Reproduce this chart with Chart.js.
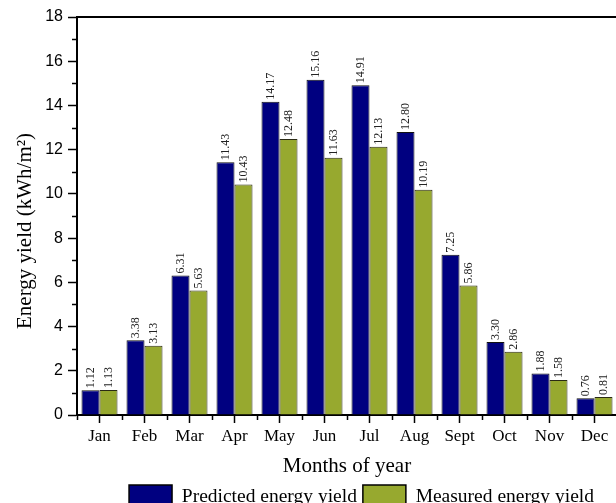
<!DOCTYPE html>
<html>
<head>
<meta charset="utf-8">
<script src="https://cdn.jsdelivr.net/npm/chart.js@4.4.1/dist/chart.umd.min.js"></script>
<style>
  html, body { margin: 0; padding: 0; background: #fff; overflow: hidden; }
  #wrap { width: 616px; height: 503px; overflow: hidden; position: relative; }
  canvas { display: block; }
</style>
</head>
<body>
<div id="wrap"><canvas id="c" width="640" height="519"></canvas></div>
<script>
// Monthly energy yield, kWh/m²
const months = ['Jan', 'Feb', 'Mar', 'Apr', 'May', 'Jun', 'Jul', 'Aug', 'Sept', 'Oct', 'Nov', 'Dec'];
const predicted = [1.12, 3.38, 6.31, 11.43, 14.17, 15.16, 14.91, 12.80, 7.25, 3.30, 1.88, 0.76];
const measured = [1.13, 3.13, 5.63, 10.43, 12.48, 11.63, 12.13, 10.19, 5.86, 2.86, 1.58, 0.81];
const yTicks = [0, 2, 4, 6, 8, 10, 12, 14, 16, 18];

const SERIF = '"Liberation Serif", "Times New Roman", serif';
const SANS = '"Liberation Sans", Arial, sans-serif';

// Value labels, rotated, just above each bar
const valueLabels = {
  id: 'valueLabels',
  afterDatasetsDraw(chart) {
    const ctx = chart.ctx;
    ctx.save();
    ctx.font = '12px ' + SERIF;
    ctx.fillStyle = '#222';
    ctx.textAlign = 'left';
    ctx.textBaseline = 'middle';
    chart.data.datasets.forEach((ds, i) => {
      chart.getDatasetMeta(i).data.forEach((bar, j) => {
        ctx.save();
        ctx.translate(bar.x, bar.y - 2);
        ctx.rotate(-Math.PI / 2);
        ctx.fillText(ds.data[j].toFixed(2), 0, 0);
        ctx.restore();
      });
    });
    ctx.restore();
  }
};

// Frame line along the top, minor ticks on both axes, rotated y title
const frame = {
  id: 'frame',
  afterLayout(chart) {
    const lg = chart.legend;
    lg.left = 106;
    lg.right = 617;
  },
  afterDraw(chart) {
    const ctx = chart.ctx;
    const {top, left, right, bottom} = chart.chartArea;
    const x = chart.scales.x, y = chart.scales.y;
    ctx.save();
    ctx.strokeStyle = '#000';
    ctx.lineWidth = 2;
    ctx.beginPath();
    ctx.moveTo(left - 1, top);
    ctx.lineTo(right + 10, top);
    ctx.stroke();
    ctx.lineWidth = 1.5;
    ctx.beginPath();
    for (let v = 1; v < 18; v += 2) {
      const py = Math.round(y.getPixelForValue(v)) + 0.5;
      ctx.moveTo(left - 5, py);
      ctx.lineTo(left, py);
    }
    const step = x.getPixelForValue(1) - x.getPixelForValue(0);
    for (let k = 0; k <= months.length; k++) {
      const px = x.getPixelForValue(k) - step / 2;
      ctx.moveTo(Math.round(px) + 0.5, bottom);
      ctx.lineTo(Math.round(px) + 0.5, bottom + 5);
    }
    ctx.stroke();
    ctx.fillStyle = '#000';
    ctx.font = '21px ' + SERIF;
    ctx.textAlign = 'center';
    ctx.textBaseline = 'middle';
    ctx.translate(25, 231);
    ctx.rotate(-Math.PI / 2);
    ctx.fillText('Energy yield (kWh/m²)', 0, 0);
    ctx.restore();
  }
};

new Chart(document.getElementById('c'), {
  type: 'bar',
  data: {
    labels: months,
    datasets: [
      {
        label: 'Predicted energy yield',
        data: predicted,
        backgroundColor: '#000080',
        borderColor: '#111',
        borderWidth: 1,
        categoryPercentage: 0.8,
        barPercentage: 1.0
      },
      {
        label: 'Measured energy yield',
        data: measured,
        backgroundColor: '#97A92F',
        borderColor: '#2a2a14',
        borderWidth: 1,
        categoryPercentage: 0.8,
        barPercentage: 1.0
      }
    ]
  },
  options: {
    responsive: false,
    animation: false,
    layout: { padding: { top: 17, right: 23, left: 0, bottom: 0 } },
    plugins: {
      tooltip: { enabled: false },
      legend: {
        position: 'bottom',
        align: 'center',
        labels: {
          font: { family: SERIF, size: 19.5 },
          color: '#000',
          boxWidth: 43,
          boxHeight: 24,
          padding: 6,
          generateLabels(chart) {
            return chart.data.datasets.map((ds, i) => ({
              text: ds.label,
              fillStyle: ds.backgroundColor,
              strokeStyle: '#000',
              lineWidth: 1.5,
              datasetIndex: i,
              hidden: false
            }));
          }
        }
      }
    },
    scales: {
      x: {
        offset: true,
        grid: {
          offset: false,
          drawOnChartArea: false,
          drawTicks: true,
          tickLength: 8,
          tickWidth: 1.5,
          tickColor: '#000'
        },
        border: { display: true, color: '#000', width: 2 },
        ticks: {
          font: { family: SERIF, size: 17 },
          color: '#000',
          padding: 3,
          maxRotation: 0,
          autoSkip: false
        },
        title: {
          display: true,
          text: 'Months of year',
          font: { family: SERIF, size: 21 },
          color: '#000',
          padding: { top: 0, bottom: 0 }
        },
        afterFit(scale) { scale.height = 64; }
      },
      y: {
        min: 0,
        max: 18,
        afterBuildTicks(scale) {
          scale.ticks = yTicks.map(v => ({ value: v }));
        },
        grid: {
          drawOnChartArea: false,
          drawTicks: true,
          tickLength: 9,
          tickWidth: 1.5,
          tickColor: '#000'
        },
        border: { display: true, color: '#000', width: 2 },
        ticks: {
          font: { family: SANS, size: 16 },
          color: '#000',
          padding: 5
        },
        afterFit(scale) { scale.width = 77; }
      }
    }
  },
  plugins: [valueLabels, frame]
});
</script>
</body>
</html>
